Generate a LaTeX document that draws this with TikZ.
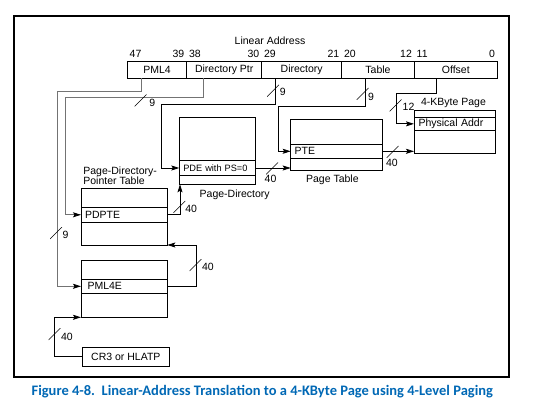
\documentclass[tikz,border=0pt]{standalone}
\usepackage{fontspec}
\setmainfont{Liberation Sans}
\newfontfamily\capfont{Carlito}
\usepackage{tikz}
\usetikzlibrary{arrows.meta, positioning}
\definecolor{intelblue}{RGB}{0,104,181}

\begin{document}
\begin{tikzpicture}[
x=1pt, y=-1pt, line width=0.8pt,
font=\fontsize{10.5}{10.5}\selectfont,
fieldnode/.style={rectangle, draw, minimum height=16.6pt, inner sep=0pt, outer sep=0pt},
bitnode/.style={inner xsep=2pt, inner ysep=4pt},
tablenode/.style={rectangle, draw, inner sep=0pt, outer sep=0pt, anchor=north west},
rownode/.style={rectangle, draw, inner xsep=4pt, inner ysep=0pt, outer sep=0pt, anchor=north west, align=left},
labelnode/.style={inner sep=0pt},
widthmark/.style={minimum width=12pt, minimum height=12pt, inner sep=0pt, outer sep=0pt,
  path picture={\draw[line width=0.6pt] (path picture bounding box.south west) -- (path picture bounding box.north east);}},
marklabel/.style={inner sep=0pt, anchor=west},
link/.style={-{Stealth[length=8pt, width=5pt, inset=1.5pt, black]}},
graylink/.style={link, draw=black!55},
]
\useasboundingbox (0,0) rectangle (534,411);

%Frame
\draw[line width=1.1pt] (14,16) rectangle (509,377);

%Linear address
\node[labelnode] (linaddr) at (270,41) {Linear Address};
\node[fieldnode, minimum width=59.4pt, anchor=north west] (pml4) at (127.3,61.7) {PML4};
\node[fieldnode, minimum width=75pt, right=0pt of pml4]     (dirptr) {Directory Ptr};
\node[fieldnode, minimum width=80pt, right=0pt of dirptr]   (dir)    {Directory};
\node[fieldnode, minimum width=72.6pt, right=0pt of dir]    (table)  {Table};
\node[fieldnode, minimum width=83pt, right=0pt of table]    (offset) {Offset};

\node[bitnode, above right] (b47) at (pml4.north west)   {47};
\node[bitnode, above left]  (b39) at (dirptr.north west) {39};
\node[bitnode, above right] (b38) at (dirptr.north west) {38};
\node[bitnode, above left]  (b30) at (dir.north west)    {30};
\node[bitnode, above right] (b29) at (dir.north west)    {29};
\node[bitnode, above left]  (b21) at (table.north west)  {21};
\node[bitnode, above right] (b20) at (table.north west)  {20};
\node[bitnode, above left]  (b12) at (offset.north west) {12};
\node[bitnode, above right] (b11) at (offset.north west) {11};
\node[bitnode, above left]  (b0)  at (offset.north east) {0};

%Tables
\node[tablenode, minimum width=86.7pt, minimum height=57.3pt] (pml4t) at (81,260) {};
\node[rownode, text width=73.7pt, inner xsep=6.5pt, minimum height=14pt] (pml4e) at (81,279.3) {PML4E};
\node[tablenode, minimum width=86.3pt, minimum height=56.3pt] (pdpt) at (81,188.7) {};
\node[rownode, text width=78.3pt, minimum height=15pt] (pdpte) at (81,207.3) {PDPTE};
\node[tablenode, minimum width=75.7pt, minimum height=67pt] (pd) at (179.3,117.3) {};
\node[rownode, text width=67.7pt, minimum height=14.6pt, font=\fontsize{9.2}{9.2}\selectfont] (pde) at (179.3,160.7) {PDE with PS=0};
\node[tablenode, minimum width=92pt, minimum height=50.7pt] (pt) at (290.7,119.3) {};
\node[rownode, text width=84pt, minimum height=14pt] (pte) at (290.7,144.3) {PTE};
\node[tablenode, minimum width=81.7pt, minimum height=42.6pt] (page) at (414,110.7) {};
\node[rownode, text width=72.7pt, inner xsep=4.5pt, minimum height=12.3pt] (physaddr) at (414,117.7) {Physical Addr};
\node[tablenode, minimum width=87pt, minimum height=18.7pt] (cr3) at (82.3,347.3) {CR3 or HLATP};

\node[labelnode, align=left, above right=3.4pt and 2pt of pdpt.north west] (pdptlabel) {Page-Directory-\\Pointer Table};
\node[labelnode, below right=5pt and 20pt of pd.south west] (pdlabel) {Page-Directory};
\node[labelnode, below right=4.5pt and 15pt of pt.south west] (ptlabel) {Page Table};
\node[labelnode, above right=2.4pt and 6.7pt of page.north west] (pagelabel) {4-KByte Page};

%Lines
\draw[graylink] ([xshift=-15.3pt]pml4.south) |- (57,91) |- (pml4e.west);
\draw[graylink] ([xshift=-20.9pt]dirptr.south) |- (65.7,97.3) |- (pdpte.west);
\draw[link] ([xshift=-26pt]dir.south) |- (161.7,104.3) |- (pde.west);
\draw[link] ([xshift=-13pt]table.south) |- (278.3,106.7) |- (pte.west);
\draw[link] ([xshift=-19.5pt]offset.south) |- (396.7,93.3) |- (physaddr.west);
\draw[link] (pml4e.east) -| ([xshift=29.4pt]pdpt.south east) -- (pdpt.south east);
\draw[link] (pdpte.east) -| ([xshift=0.7pt]pd.south west);
\draw[link] (pde.east) -- (pde.east -| pt.west);
\draw[link] (pte.east) -- (pte.east -| page.west);
\draw[link] (cr3.west) -| ([xshift=-26.7pt]pml4t.south west) -- (pml4t.south west);

%Widths
\node[widthmark] (w1) at (140.5,100.5) {};
\node[marklabel] (w1l) at (149,102.7) {9};
\node[widthmark] (w2) at (273,90.8) {};
\node[marklabel] (w2l) at (279.5,91.7) {9};
\node[widthmark] (w3) at (362.5,94) {};
\node[marklabel] (w3l) at (367.7,96.7) {9};
\node[widthmark] (w4) at (395.5,105.5) {};
\node[marklabel] (w4l) at (402.3,107.3) {12};
\node[widthmark] (w5) at (56,233) {};
\node[marklabel] (w5l) at (62.3,235) {9};
\node[widthmark] (w6) at (179.3,207) {};
\node[marklabel] (w6l) at (185,209.3) {40};
\node[widthmark] (w7) at (195.5,265) {};
\node[marklabel] (w7l) at (201.7,266.7) {40};
\node[widthmark] (w8) at (54.5,334) {};
\node[marklabel] (w8l) at (60.7,336.7) {40};
\node[widthmark] (w9) at (272,168.5) {};
\node[marklabel] (w9l) at (264.3,179) {40};
\node[widthmark] (w10) at (392.5,152) {};
\node[marklabel] (w10l) at (385.7,162.7) {40};

%Caption
\node[anchor=base, inner sep=0pt, text=intelblue, font=\capfont\bfseries\fontsize{14.5}{14.5}\selectfont] (caption) at (262.3,395.5)
  {Figure 4-8.\ \ Linear-Address Translation to a 4-KByte Page using 4-Level Paging};

\end{tikzpicture}
\end{document}
